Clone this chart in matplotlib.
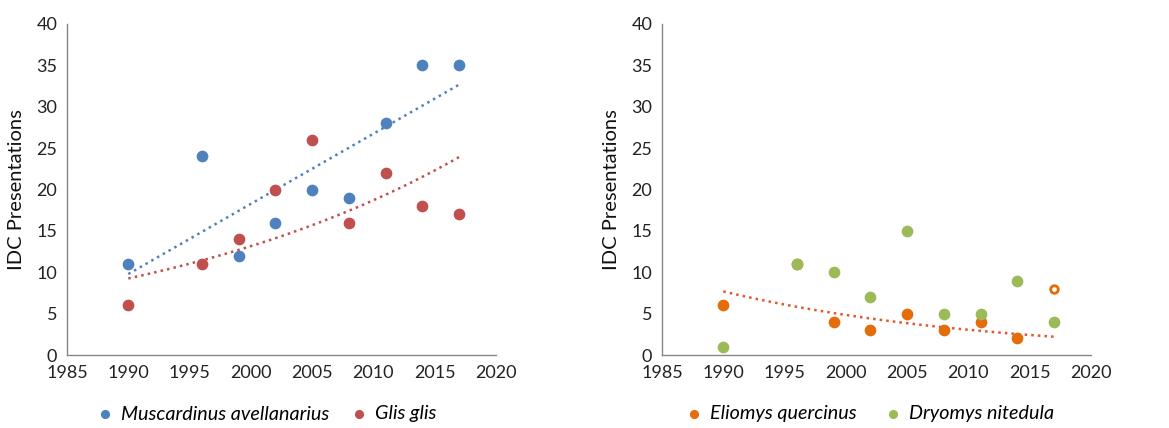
import matplotlib
matplotlib.use("Agg")
import matplotlib.pyplot as plt
import numpy as np

plt.rcParams['font.family'] = ['Lato', 'DejaVu Sans']

years = [1990, 1996, 1999, 2002, 2005, 2008, 2011, 2014, 2017]
muscardinus = [11, 24, 12, 16, 20, 19, 28, 35, 35]
glis = [6, 11, 14, 20, 26, 16, 22, 18, 17]

# 1996 value sits under the green 1996 point
eliomys_years = [1990, 1996, 1999, 2002, 2005, 2008, 2011, 2014]
eliomys = [6, 11, 4, 3, 5, 3, 4, 2]
eliomys_outlier_year = [2017]
eliomys_outlier = [8]
dryomys = [1, 11, 10, 7, 15, 5, 5, 9, 4]

c_blue = '#4F81BD'
c_red = '#C0504D'
c_orange = '#E46C0A'
c_green = '#9BBB59'

xs = np.linspace(1990, 2017, 100)

def exp_trend(x, y):
    b, a = np.polyfit(np.array(x, float), np.log(y), 1)
    return np.exp(a + b * xs)

def lin_trend(x, y):
    b, a = np.polyfit(np.array(x, float), np.array(y, float), 1)
    return a + b * xs

fig = plt.figure(figsize=(11.69, 4.28), dpi=100)
ax1 = fig.add_axes([67 / 1169, 73 / 428, 429 / 1169, 331 / 428])
ax2 = fig.add_axes([662 / 1169, 73 / 428, 429 / 1169, 331 / 428])

def style(ax):
    ax.set_xlim(1985, 2020)
    ax.set_ylim(0, 40)
    ax.set_xticks(range(1985, 2021, 5))
    ax.set_yticks(range(0, 41, 5))
    for s in ['top', 'right']:
        ax.spines[s].set_visible(False)
    for s in ['left', 'bottom']:
        ax.spines[s].set_color('#888888')
        ax.spines[s].set_linewidth(1)
    ax.tick_params(length=0, labelsize=13, colors='#222222', pad=7)
    ax.set_ylabel('IDC Presentations', fontsize=14.5, color='#111111', labelpad=8)

ms = 55
ax1.plot(xs, lin_trend(years, muscardinus), ':', color=c_blue, lw=1.8)
ax1.plot(xs, exp_trend(years, glis), ':', color=c_red, lw=1.8)
ax1.scatter(years, muscardinus, s=ms, color=c_blue, zorder=3, label='Muscardinus avellanarius')
ax1.scatter(years, glis, s=ms, color=c_red, zorder=3, label='Glis glis')
style(ax1)

ax2.plot(xs, exp_trend(eliomys_years, eliomys), ':', color='#E0562E', lw=1.8)
ax2.scatter(eliomys_years, eliomys, s=ms, color=c_orange, zorder=3, label='Eliomys quercinus')
ax2.scatter(eliomys_outlier_year, eliomys_outlier, s=30, facecolor='white',
            edgecolor=c_orange, linewidth=2, zorder=3)
ax2.scatter(years, dryomys, s=ms, color=c_green, zorder=4, label='Dryomys nitedula')
style(ax2)

for ax, x0, gap in ((ax1, 95, 1.05), (ax2, 684, 1.35)):
    ax.legend(loc='center left', bbox_to_anchor=(x0 / 1169, 14 / 428),
              bbox_transform=fig.transFigure, ncol=2, frameon=False,
              prop={'style': 'italic', 'size': 14.2}, handlelength=1.0,
              handletextpad=0.3, columnspacing=gap, markerscale=0.75,
              borderpad=0, borderaxespad=0)

fig.savefig('out.png', dpi=100)
